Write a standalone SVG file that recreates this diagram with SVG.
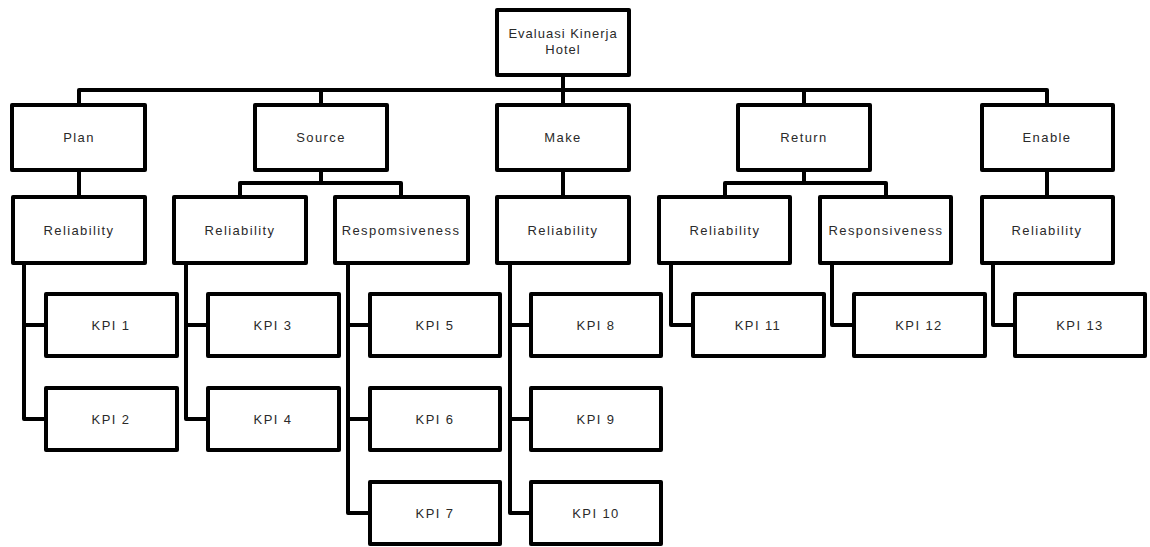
<svg xmlns="http://www.w3.org/2000/svg" width="1150" height="547" viewBox="0 0 1150 547">
<style>
.box{fill:#fff;stroke:#000;stroke-width:4;stroke-linejoin:round}
.lbl{font-family:"Liberation Sans",Arial,sans-serif;font-size:13px;letter-spacing:1.4px;fill:#2a2a2a;text-anchor:middle;dominant-baseline:central}
.con{fill:none;stroke:#000;stroke-width:4;stroke-linejoin:round}
</style>
<rect width="1150" height="547" fill="#fff"/>
<g id="connectors">
<path class="con" d="M563 75V90M79 103V90H1047V103M321 90V103M563 90V103M804 90V103"/>
<path class="con" d="M79 170V197"/>
<path class="con" d="M321 170V183M240 197V183H401V197"/>
<path class="con" d="M563 170V197"/>
<path class="con" d="M804 170V183M725 197V183H886V197"/>
<path class="con" d="M1047 170V197"/>
<path class="con" d="M24 263V419H46M24 325H46"/>
<path class="con" d="M186 263V419H208M186 325H208"/>
<path class="con" d="M348 263V513H370M348 325H370M348 419H370"/>
<path class="con" d="M510 263V513H531M510 325H531M510 419H531"/>
<path class="con" d="M671 263V325H693"/>
<path class="con" d="M832 263V325H854"/>
<path class="con" d="M993 263V325H1015"/>
</g>
<g id="root"><rect class="box" x="497" y="10" width="132" height="65"/><text class="lbl" x="563" y="33" style="letter-spacing:1px">Evaluasi Kinerja</text><text class="lbl" x="563" y="49" style="letter-spacing:1px">Hotel</text></g>
<g id="plan"><rect class="box" x="12" y="105" width="133" height="65"/><text class="lbl" x="79" y="137">Plan</text></g>
<g id="source"><rect class="box" x="255" y="105" width="132" height="65"/><text class="lbl" x="321" y="137">Source</text></g>
<g id="make"><rect class="box" x="497" y="105" width="132" height="65"/><text class="lbl" x="563" y="137">Make</text></g>
<g id="return"><rect class="box" x="738" y="105" width="132" height="65"/><text class="lbl" x="804" y="137">Return</text></g>
<g id="enable"><rect class="box" x="982" y="105" width="131" height="65"/><text class="lbl" x="1047" y="137">Enable</text></g>
<g id="plan-reliability"><rect class="box" x="13" y="197" width="132" height="66"/><text class="lbl" x="79" y="230">Reliability</text></g>
<g id="source-reliability"><rect class="box" x="174" y="197" width="132" height="66"/><text class="lbl" x="240" y="230">Reliability</text></g>
<g id="source-respomsiveness"><rect class="box" x="335" y="197" width="133" height="66"/><text class="lbl" x="401" y="230">Respomsiveness</text></g>
<g id="make-reliability"><rect class="box" x="497" y="197" width="132" height="66"/><text class="lbl" x="563" y="230">Reliability</text></g>
<g id="return-reliability"><rect class="box" x="659" y="197" width="131" height="66"/><text class="lbl" x="725" y="230">Reliability</text></g>
<g id="return-responsiveness"><rect class="box" x="820" y="197" width="131" height="66"/><text class="lbl" x="886" y="230">Responsiveness</text></g>
<g id="enable-reliability"><rect class="box" x="982" y="197" width="131" height="66"/><text class="lbl" x="1047" y="230">Reliability</text></g>
<g id="kpi1"><rect class="box" x="46" y="294" width="131" height="62"/><text class="lbl" x="111" y="325">KPI 1</text></g>
<g id="kpi2"><rect class="box" x="46" y="388" width="131" height="62"/><text class="lbl" x="111" y="419">KPI 2</text></g>
<g id="kpi3"><rect class="box" x="208" y="294" width="131" height="62"/><text class="lbl" x="273" y="325">KPI 3</text></g>
<g id="kpi4"><rect class="box" x="208" y="388" width="131" height="62"/><text class="lbl" x="273" y="419">KPI 4</text></g>
<g id="kpi5"><rect class="box" x="370" y="294" width="130" height="62"/><text class="lbl" x="435" y="325">KPI 5</text></g>
<g id="kpi6"><rect class="box" x="370" y="388" width="130" height="62"/><text class="lbl" x="435" y="419">KPI 6</text></g>
<g id="kpi7"><rect class="box" x="370" y="482" width="130" height="62"/><text class="lbl" x="435" y="513">KPI 7</text></g>
<g id="kpi8"><rect class="box" x="531" y="294" width="130" height="62"/><text class="lbl" x="596" y="325">KPI 8</text></g>
<g id="kpi9"><rect class="box" x="531" y="388" width="130" height="62"/><text class="lbl" x="596" y="419">KPI 9</text></g>
<g id="kpi10"><rect class="box" x="531" y="482" width="130" height="62"/><text class="lbl" x="596" y="513">KPI 10</text></g>
<g id="kpi11"><rect class="box" x="693" y="294" width="131" height="62"/><text class="lbl" x="758" y="325">KPI 11</text></g>
<g id="kpi12"><rect class="box" x="854" y="294" width="131" height="62"/><text class="lbl" x="919" y="325">KPI 12</text></g>
<g id="kpi13"><rect class="box" x="1015" y="294" width="130" height="62"/><text class="lbl" x="1080" y="325">KPI 13</text></g>
</svg>
